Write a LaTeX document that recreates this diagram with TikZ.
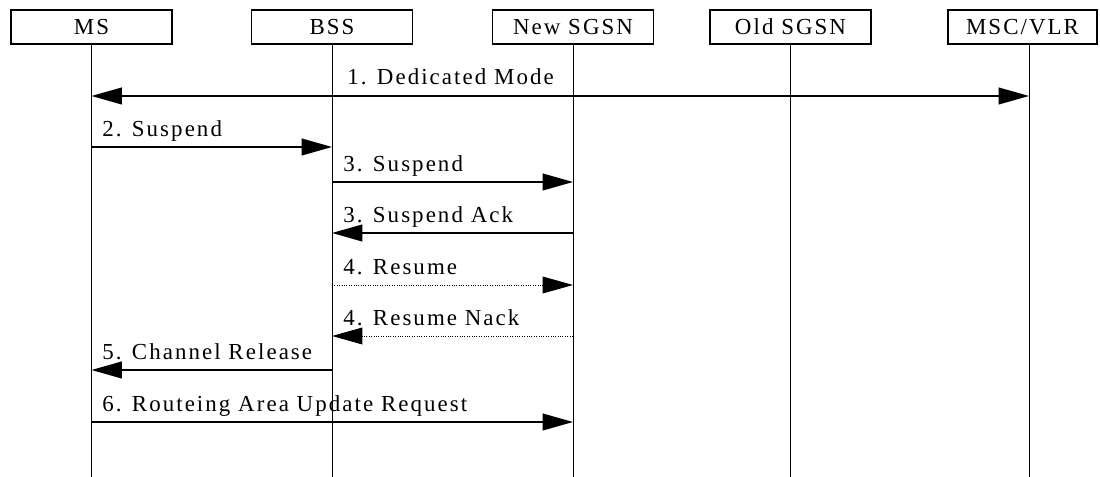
\documentclass[tikz,border=0pt]{standalone}
\usepackage{fontspec}
\setmainfont{Liberation Serif}[LetterSpace=9]
\usepackage{tikz}
\usetikzlibrary{arrows.meta, positioning}

\begin{document}
\begin{tikzpicture}[x=0.025cm, y=-0.025cm,
  entity/.style={draw, line width=1pt, minimum width=4.025cm, minimum height=0.85cm,
    inner sep=0pt, font=\fontsize{16.3}{19}\selectfont},
  lifeline/.style={line width=0.7pt},
  msg/.style={line width=1.1pt, -{Triangle[length=0.76cm, width=0.42cm]}},
  resp/.style={msg, line width=0.7pt, densely dotted},
  lbl/.style={anchor=base west, inner sep=0pt, font=\fontsize{16.3}{19}\selectfont}]
\useasboundingbox (0,0) rectangle (1100,477);
\node[entity] (ms) at (91.5,27) {MS};
\node[entity] (bss) at (332,27) {BSS};
\node[entity] (nsgsn) at (573,27) {New SGSN};
\node[entity] (osgsn) at (790.5,27) {Old SGSN};
\node[entity, minimum width=3.725cm] (msc) at (1022.5,27) {MSC/VLR};
\coordinate (mscl) at (1029,44);
\coordinate (bottom) at (0,477);
\draw[lifeline] (ms) -- (ms |- bottom);
\draw[lifeline] (bss) -- (bss |- bottom);
\draw[lifeline] (nsgsn) -- (nsgsn |- bottom);
\draw[lifeline] (osgsn) -- (osgsn |- bottom);
\draw[lifeline] (mscl) -- (mscl |- bottom);
\coordinate (r1) at (0,96);
\coordinate (r2) at (0,147);
\coordinate (r3) at (0,182);
\coordinate (r4) at (0,233);
\coordinate (r5) at (0,285);
\coordinate (r6) at (0,336);
\coordinate (r7) at (0,370);
\coordinate (r8) at (0,422);
\draw[msg, {Triangle[length=0.76cm, width=0.42cm]}-{Triangle[length=0.76cm, width=0.42cm]}] (ms |- r1) -- (mscl |- r1);
\node[lbl] (l1) at (347,85) {1. Dedicated Mode};
\draw[msg] (ms |- r2) -- (bss |- r2);
\node[lbl] (l2) at (102,137) {2. Suspend};
\draw[msg] (bss |- r3) -- (nsgsn |- r3);
\node[lbl] (l3) at (343,172) {3. Suspend};
\draw[msg] (nsgsn |- r4) -- (bss |- r4);
\node[lbl] (l4) at (343,223) {3. Suspend Ack};
\draw[resp] (bss |- r5) -- (nsgsn |- r5);
\node[lbl] (l5) at (343,275) {4. Resume};
\draw[resp] (nsgsn |- r6) -- (bss |- r6);
\node[lbl] (l6) at (343,326) {4. Resume Nack};
\draw[msg] (bss |- r7) -- (ms |- r7);
\node[lbl] (l7) at (102,360) {5. Channel Release};
\draw[msg] (ms |- r8) -- (nsgsn |- r8);
\node[lbl] (l8) at (102,412) {6. Routeing Area Update Request};
\end{tikzpicture}
\end{document}
